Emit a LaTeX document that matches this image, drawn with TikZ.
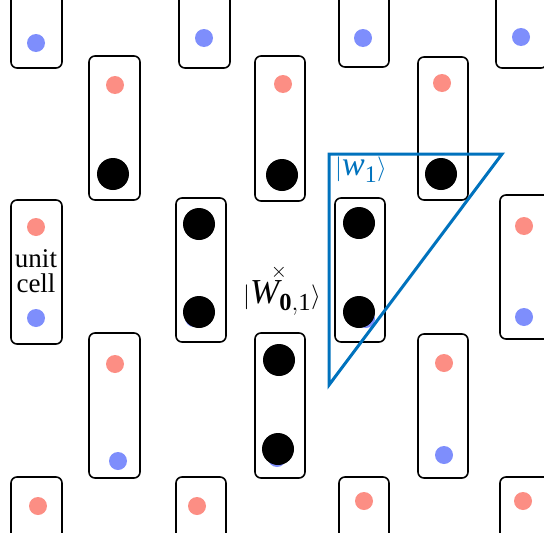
\documentclass[tikz,border=0pt]{standalone}
\usepackage{fontspec}
\setmainfont{Liberation Serif}
\setmathrm{Liberation Serif}
\usepackage{amsmath}
\definecolor{redc}{RGB}{252,142,132}
\definecolor{bluec}{RGB}{126,142,252}
\definecolor{wannc}{RGB}{0,114,189}

\begin{document}
\begin{tikzpicture}[x=1pt, y=-1pt,
    cell/.style={draw=black, line width=1.6pt, rounded corners=6pt},
    redsite/.style={fill=redc},
    bluesite/.style={fill=bluec},
    wsite/.style={fill=black}]
  \useasboundingbox (0,0) rectangle (544,533);
  \def\rs{9pt}   % radius of a lattice site
  \def\rw{16pt}  % radius of an occupied site

  % unit cells: top row (cut by the frame)
  \draw[cell] (11,-80) rectangle (62,68);
  \draw[cell] (179,-80) rectangle (230,68);
  \draw[cell] (339,-80) rectangle (389,67);
  \draw[cell] (496,-80) rectangle (547,68);
  % second row
  \draw[cell] (89,56) rectangle (140,200);
  \draw[cell] (255,56) rectangle (305,201);
  \draw[cell] (418,57) rectangle (468,200);
  % third row
  \draw[cell] (11,200) rectangle (62,344);
  \draw[cell] (176,198) rectangle (226,342);
  \draw[cell] (335,198) rectangle (385,342);
  \draw[cell] (500,195) rectangle (551,339);
  % fourth row
  \draw[cell] (89,333) rectangle (140,478);
  \draw[cell] (255,333) rectangle (305,478);
  \draw[cell] (418,334) rectangle (468,478);
  % bottom row (cut by the frame)
  \draw[cell] (11,477) rectangle (62,620);
  \draw[cell] (176,477) rectangle (226,620);
  \draw[cell] (339,477) rectangle (389,620);
  \draw[cell] (500,477) rectangle (551,620);

  % sites
  \fill[bluesite] (36,43) circle (\rs);
  \fill[bluesite] (204,38) circle (\rs);
  \fill[bluesite] (363,38) circle (\rs);
  \fill[bluesite] (521,37) circle (\rs);
  \fill[redsite] (115,85) circle (\rs);
  \fill[redsite] (283,84) circle (\rs);
  \fill[redsite] (442,83) circle (\rs);
  \fill[redsite] (36,227) circle (\rs);
  \fill[bluesite] (36,318) circle (\rs);
  \fill[bluesite] (194,318) circle (\rs);
  \fill[bluesite] (366,319) circle (\rs);
  \fill[redsite] (524,226) circle (\rs);
  \fill[bluesite] (524,317) circle (\rs);
  \fill[redsite] (115,364) circle (\rs);
  \fill[bluesite] (118,461) circle (\rs);
  \fill[bluesite] (277,458) circle (\rs);
  \fill[redsite] (444,363) circle (\rs);
  \fill[bluesite] (444,455) circle (\rs);
  \fill[redsite] (38,506) circle (\rs);
  \fill[redsite] (197,506) circle (\rs);
  \fill[redsite] (364,501) circle (\rs);
  \fill[redsite] (523,501) circle (\rs);

  % occupied sites of the Wannier state
  \fill[wsite] (113,174) circle (\rw);
  \fill[wsite] (282,175) circle (\rw);
  \fill[wsite] (441,174) circle (\rw);
  \fill[wsite] (199,224) circle (\rw);
  \fill[wsite] (199,312) circle (\rw);
  \fill[wsite] (359,223) circle (\rw);
  \fill[wsite] (359,312) circle (\rw);
  \fill[wsite] (279,360) circle (\rw);
  \fill[wsite] (278,449) circle (\rw);

  % labels
  \node[font=\fontsize{27}{25}\selectfont, align=center] (ucell) at (36,271)
    {unit\\cell};
  \node[font=\fontsize{21}{21}\selectfont] (wcenter) at (279,272) {$\times$};
  \node[font=\fontsize{35}{35}\selectfont] (wlabel) at (282,298)
    {$|\mathit{W}_{\mathbf{0},\mathrm{1}}\rangle$};

  % compact Wannier function w_1
  \draw[wannc, line width=3pt] (329,154) -- (502,154) -- (329,385) -- cycle;
  \node[wannc, font=\fontsize{34}{34}\selectfont] (wone) at (361,170)
    {$|\mathit{w}_{\mathrm{1}}\rangle$};
\end{tikzpicture}
\end{document}
